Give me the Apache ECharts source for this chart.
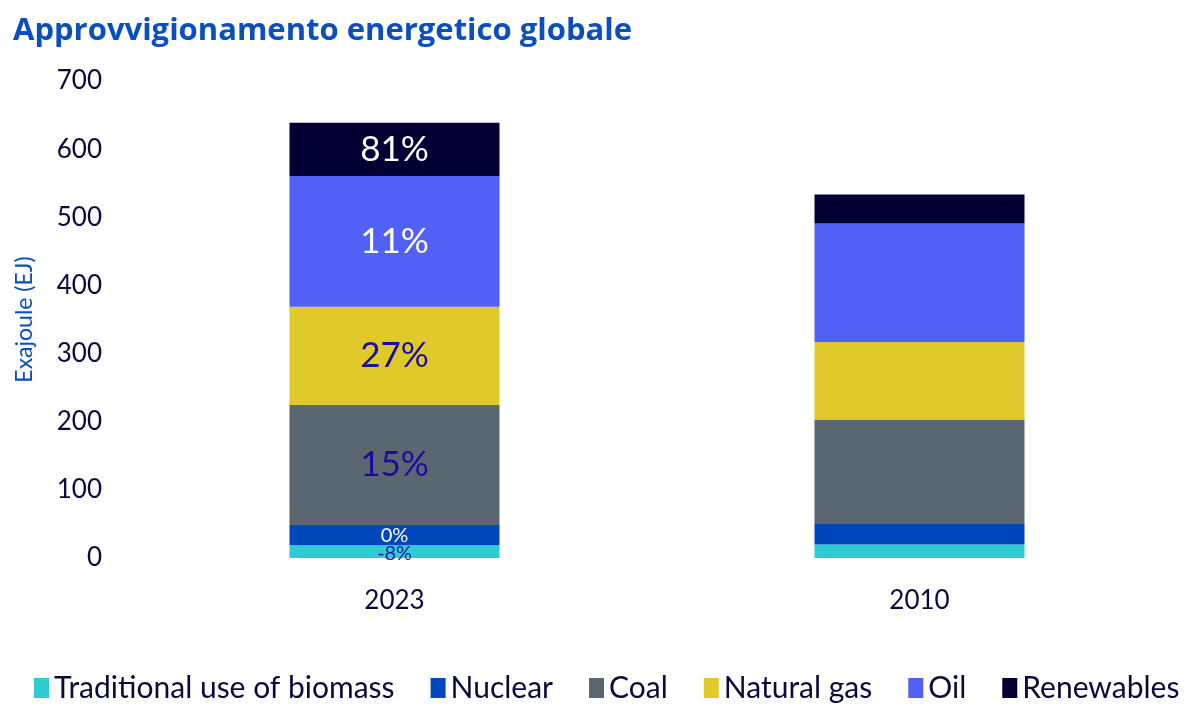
<!DOCTYPE html>
<html>
<head>
<meta charset="utf-8">
<script src="https://cdn.jsdelivr.net/npm/echarts@6/dist/echarts.min.js"></script>
<style>
  html, body { margin: 0; padding: 0; background: #fff; }
  #main { width: 1200px; height: 709px; }
</style>
</head>
<body>
<div id="main"></div>
<script>
var years = ['2023', '2010'];
var seriesNames = ['Traditional use of biomass', 'Nuclear', 'Coal', 'Natural gas', 'Oil', 'Renewables'];
var biomass = [18.6, 19.7];
var nuclear = [29.8, 30.2];
var coal = [176, 153.2];
var gas = [144.3, 113.9];
var oil = [191.8, 173.8];
var renewables = [78.2, 42.5];
// change 2010 -> 2023, printed on the 2023 bar only
var changeLabels = ['-8%', '0%', '15%', '27%', '11%', '81%'];
var colors = ['#2ECCD3', '#0047BB', '#5B6770', '#E0C92A', '#5161F5', '#020033'];
var labelColors = ['#1a1aa8', '#ffffff', '#1a0d9e', '#1a0d9e', '#ffffff', '#ffffff'];
var labelSizes = [20, 20, 35, 35, 35, 35];

var values = [biomass, nuclear, coal, gas, oil, renewables];

var myChart = echarts.init(document.getElementById('main'));

var series = values.map(function (v, i) {
    return {
        name: seriesNames[i],
        type: 'bar',
        stack: 'total',
        barWidth: '40%',
        itemStyle: { color: colors[i] },
        label: {
            show: true,
            position: i === 0 ? 'insideBottom' : 'inside',
            distance: i === 0 ? -6 : 5,
            color: labelColors[i],
            fontSize: labelSizes[i],
            fontFamily: 'Lato',
            formatter: function (p) {
                return p.dataIndex === 0 ? changeLabels[i] : '';
            }
        },
        data: v
    };
});

var option = {
    animation: false,
    title: {
        text: 'Approvvigionamento energetico globale',
        left: 8,
        top: 11,
        textStyle: {
            color: '#0a4fc0',
            fontSize: 31,
            fontWeight: 'bold',
            fontFamily: 'Open Sans'
        }
    },
    legend: {
        bottom: 6,
        left: 34,
        width: 1166,
        padding: 0,
        itemWidth: 15,
        itemHeight: 20,
        itemGap: 36,
        icon: 'rect',
        textStyle: {
            color: '#0a0a3c',
            fontSize: 30,
            fontFamily: 'Lato'
        },
        data: seriesNames
    },
    grid: {
        left: 132,
        right: 18,
        top: 81,
        bottom: 151
    },
    xAxis: {
        type: 'category',
        data: years,
        axisLine: { show: false },
        axisTick: { show: false },
        axisLabel: {
            color: '#0a0a3c',
            fontSize: 26,
            fontFamily: 'Lato',
            margin: 30
        }
    },
    yAxis: {
        type: 'value',
        min: 0,
        max: 700,
        interval: 100,
        name: 'Exajoule (EJ)',
        nameLocation: 'middle',
        nameGap: 96,
        nameTextStyle: {
            color: '#0a4fc0',
            fontSize: 23,
            fontFamily: 'Lato'
        },
        splitLine: { show: false },
        axisLine: { show: false },
        axisTick: { show: false },
        axisLabel: {
            color: '#0a0a3c',
            fontSize: 26,
            fontFamily: 'Lato',
            margin: 30
        }
    },
    series: series
};

myChart.setOption(option);
</script>
</body>
</html>
